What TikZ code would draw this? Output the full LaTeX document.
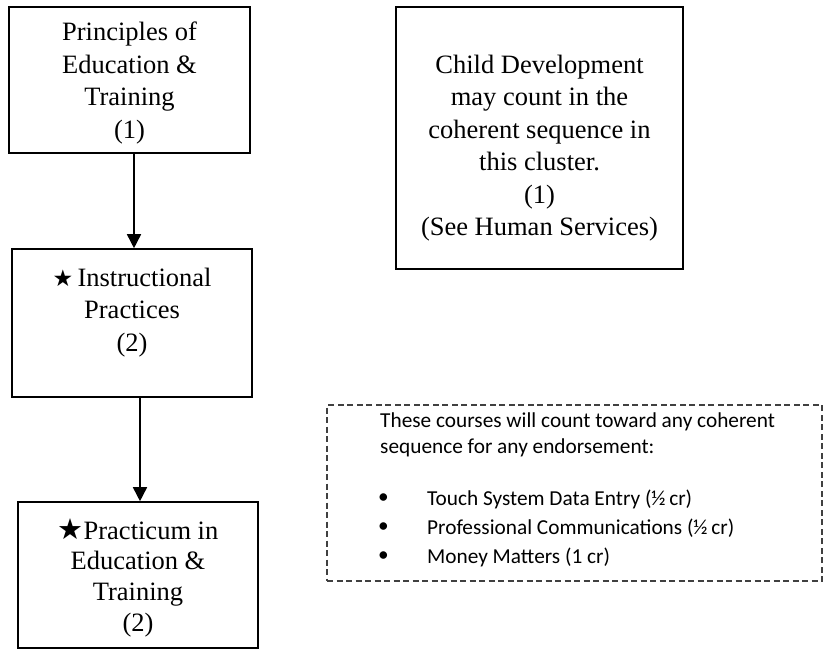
\documentclass[tikz,border=0pt]{standalone}
\usepackage{fontspec}
\setmainfont{Liberation Serif}
\newfontfamily\calibri{Carlito}
\newfontfamily\starfont{DejaVu Sans}
\usetikzlibrary{arrows.meta}
\tikzset{
    >={Triangle[length=14pt,width=14pt]},
    course/.style={draw=black,line width=1.6pt,rectangle,align=center,
        inner sep=0pt,font=\fontsize{26.5}{32.5}\selectfont},
    note/.style={draw=black!75,line width=1.4pt,dash pattern=on 6pt off 3.5pt,
        rectangle,inner sep=0pt},
    notetext/.style={font=\calibri\fontsize{21.3}{25.5}\selectfont,align=left,
        inner sep=0pt,anchor=west},
}

\begin{document}
\begin{tikzpicture}[x=1pt,y=-1pt]
            \useasboundingbox (0,0) rectangle (824,648);

            \node[course,minimum width=241pt,minimum height=146pt] (principles) at (129.5,80)
                {\rule{0pt}{24.5pt}Principles of\\Education \&\\Training\\(1)};
            \node[course,minimum width=240pt,minimum height=148pt] (practices) at (132,323)
                {\smash{\starfont\fontsize{23}{32}\selectfont★}\,Instructional\\Practices\\(2)\\[-6pt]\mbox{}};
            \node[course,minimum width=240pt,minimum height=146pt,
                font=\fontsize{26.5}{30.7}\selectfont] (practicum) at (138,575)
                {\rule{0pt}{26pt}\smash{\starfont\fontsize{29}{32}\selectfont★}Practicum in\\Education \&\\Training\\(2)};
            \node[course,minimum width=287pt,minimum height=262pt] (childdev) at (539.5,138)
                {\rule{0pt}{39pt}Child Development\\may count in the\\coherent sequence in\\this cluster.\\(1)\\(See Human Services)};

            \node[note,minimum width=495pt,minimum height=176pt] (anysequence) at (574.5,493) {};
            \node[notetext] (intro) at (380,435)
                {These courses will count toward any coherent\\sequence for any endorsement:};
            \node[notetext] (dot1) at (378,499) {•};
            \node[notetext] (dot2) at (378,528) {•};
            \node[notetext] (dot3) at (378,557) {•};
            \node[notetext] (touch) at (427,499) {Touch System Data Entry (½\,cr)};
            \node[notetext] (profcomm) at (427,528) {Professional Communications (½\,cr)};
            \node[notetext] (money) at (427,557) {Money Matters (1 cr)};

            \draw[->,line width=1.6pt] ([xshift=4.5pt]principles.south) -- ([xshift=2pt]practices.north);
            \draw[->,line width=1.6pt] ([xshift=8pt]practices.south) -- ([xshift=2pt]practicum.north);
\end{tikzpicture}
\end{document}
